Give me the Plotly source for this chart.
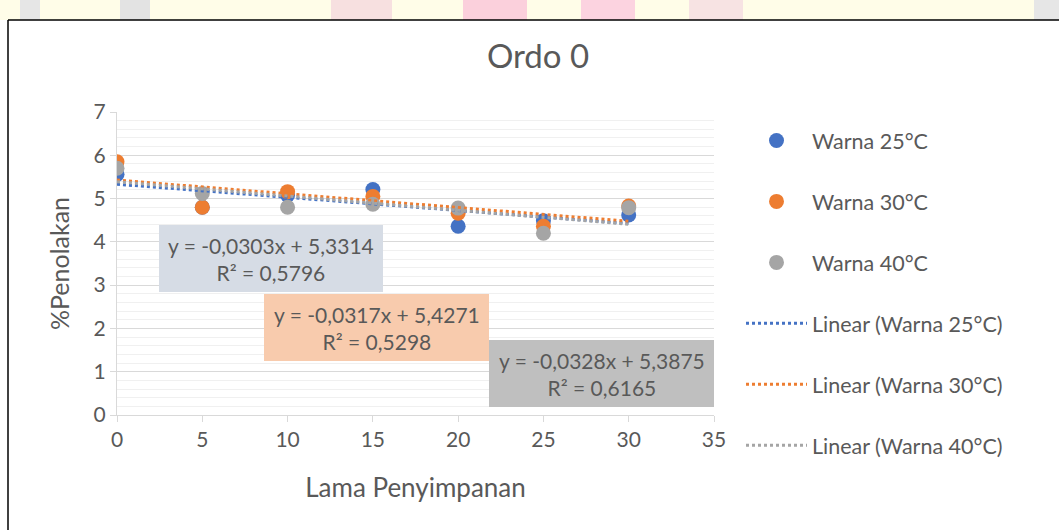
import plotly.graph_objects as go

# storage time (x) and rejection % per temperature
lama = [0, 5, 10, 15, 20, 25, 30]
warna_25 = [5.56, 4.80, 5.08, 5.21, 4.36, 4.49, 4.62]
warna_30 = [5.85, 4.80, 5.16, 5.05, 4.66, 4.36, 4.83]
warna_40 = [5.70, 5.12, 4.80, 4.87, 4.78, 4.20, 4.79]

# Excel trendline coefficients (slope, intercept, r2)
fit_25 = (-0.0303, 5.3314, 0.5796)
fit_30 = (-0.0317, 5.4271, 0.5298)
fit_40 = (-0.0328, 5.3875, 0.6165)
trend_x = [0, 30]

series = [
    ("Warna 25°C", warna_25, fit_25, "#4472C4", "#D6DCE5"),
    ("Warna 30°C", warna_30, fit_30, "#ED7D31", "#F8CBAD"),
    ("Warna 40°C", warna_40, fit_40, "#A5A5A5", "#BFBFBF"),
]

W, H = 1059, 530
PL, PR, PT, PB = 117, 714, 112, 415
TXT = "#595959"
FONT = "Lato"


def px_x(px):
    return (px - PL) / (PR - PL)


def px_y(py):
    return (PB - py) / (PB - PT)


fig = go.Figure()

for i, (name, vals, fit, col, _) in enumerate(series):
    fig.add_trace(go.Scatter(
        x=lama, y=vals, mode="markers", name=name,
        marker=dict(color=col, size=15),
        legendgroup=f"g{i}",
    ))

for i, (name, vals, fit, col, _) in enumerate(series):
    m, b, _r = fit
    fig.add_trace(go.Scatter(
        x=trend_x, y=[m * xx + b for xx in trend_x], mode="lines",
        name=f"Linear ({name})",
        line=dict(color=col, width=3, dash="dot"),
        legendgroup=f"g{i + 3}",
    ))

# equation boxes (pixel boxes of the original)
boxes = [(159, 225, 383, 292), (264, 294, 489, 361), (489, 340, 714, 407)]
shapes = []
annotations = []
for (name, vals, fit, col, bg), (x0, y0, x1, y1) in zip(series, boxes):
    m, b, r2 = fit
    shapes.append(dict(type="rect", xref="paper", yref="paper",
                       x0=px_x(x0), x1=px_x(x1), y0=px_y(y1), y1=px_y(y0),
                       fillcolor=bg, line=dict(width=0), layer="above"))
    eq = f"y = {m:.4f}x + {b:.4f}".replace(".", ",")
    r2s = f"R² = {r2:.4f}".replace(".", ",")
    annotations.append(dict(
        xref="paper", yref="paper", x=px_x((x0 + x1) / 2), y=px_y((y0 + y1) / 2),
        xanchor="center", yanchor="middle",
        text=f"{eq}<br>{r2s}", showarrow=False, align="center",
        font=dict(family=FONT, size=21, color=TXT),
    ))

# page background: watermark strip on top, chart frame
shapes.append(dict(type="rect", xref="paper", yref="paper",
                   x0=px_x(0), x1=px_x(W), y0=px_y(20), y1=px_y(0),
                   fillcolor="#FFFDE8", line=dict(width=0), layer="below"))
for (a, c, colr) in [(20, 40, "#E6E6E6"), (120, 150, "#E3E3E3"), (331, 392, "#F7E0E0"),
                     (463, 527, "#FBD0DC"), (581, 635, "#FCD3E0"), (689, 743, "#F7E3E3"),
                     (1034, 1059, "#E6E6E6")]:
    shapes.append(dict(type="rect", xref="paper", yref="paper",
                       x0=px_x(a), x1=px_x(c), y0=px_y(20), y1=px_y(0),
                       fillcolor=colr, line=dict(width=0), layer="below"))
shapes.append(dict(type="line", xref="paper", yref="paper",
                   x0=px_x(8), x1=px_x(W), y0=px_y(20), y1=px_y(20),
                   line=dict(color="#000000", width=1.5)))
shapes.append(dict(type="line", xref="paper", yref="paper",
                   x0=px_x(8), x1=px_x(8), y0=px_y(20), y1=px_y(H + 5),
                   line=dict(color="#000000", width=1.5)))

fig.update_layout(
    width=W, height=H,
    margin=dict(l=PL, r=W - PR, t=PT, b=H - PB),
    paper_bgcolor="white", plot_bgcolor="white",
    font=dict(family=FONT, color=TXT, size=21),
    title=dict(text="Ordo 0", x=538 / W, xref="container", xanchor="center",
               y=1 - 56 / H, yref="container", yanchor="middle",
               font=dict(family=FONT, size=33, color=TXT)),
    xaxis=dict(range=[0, 35], dtick=5, showgrid=False, zeroline=False,
               showline=True, linecolor="#D9D9D9", linewidth=1,
               ticks="outside", ticklen=6, tickcolor="#D9D9D9",
               tickfont=dict(size=21, color=TXT),
               title=dict(text="Lama Penyimpanan", standoff=28,
                          font=dict(size=26, color=TXT))),
    yaxis=dict(range=[0, 7], dtick=1, showgrid=True, gridcolor="#D9D9D9",
               zeroline=False, showline=True, linecolor="#D9D9D9", linewidth=1,
               ticks="outside", ticklen=6, tickcolor="#D9D9D9",
               tickfont=dict(size=21, color=TXT),
               minor=dict(dtick=0.2, showgrid=True, gridcolor="#F0F0F0"),
               title=dict(text="%Penolakan", standoff=16,
                          font=dict(size=25, color=TXT))),
    legend=dict(xref="container", yref="container", x=741 / W, y=1 - 120 / H,
                xanchor="left", yanchor="top", tracegroupgap=30, itemwidth=61,
                maxheight=500,
                bgcolor="rgba(0,0,0,0)", font=dict(size=21.5, color=TXT)),
    shapes=shapes, annotations=annotations,
)

fig.write_html("out.html", config={"displayModeBar": False},
               post_script="document.body.style.margin='0';")
